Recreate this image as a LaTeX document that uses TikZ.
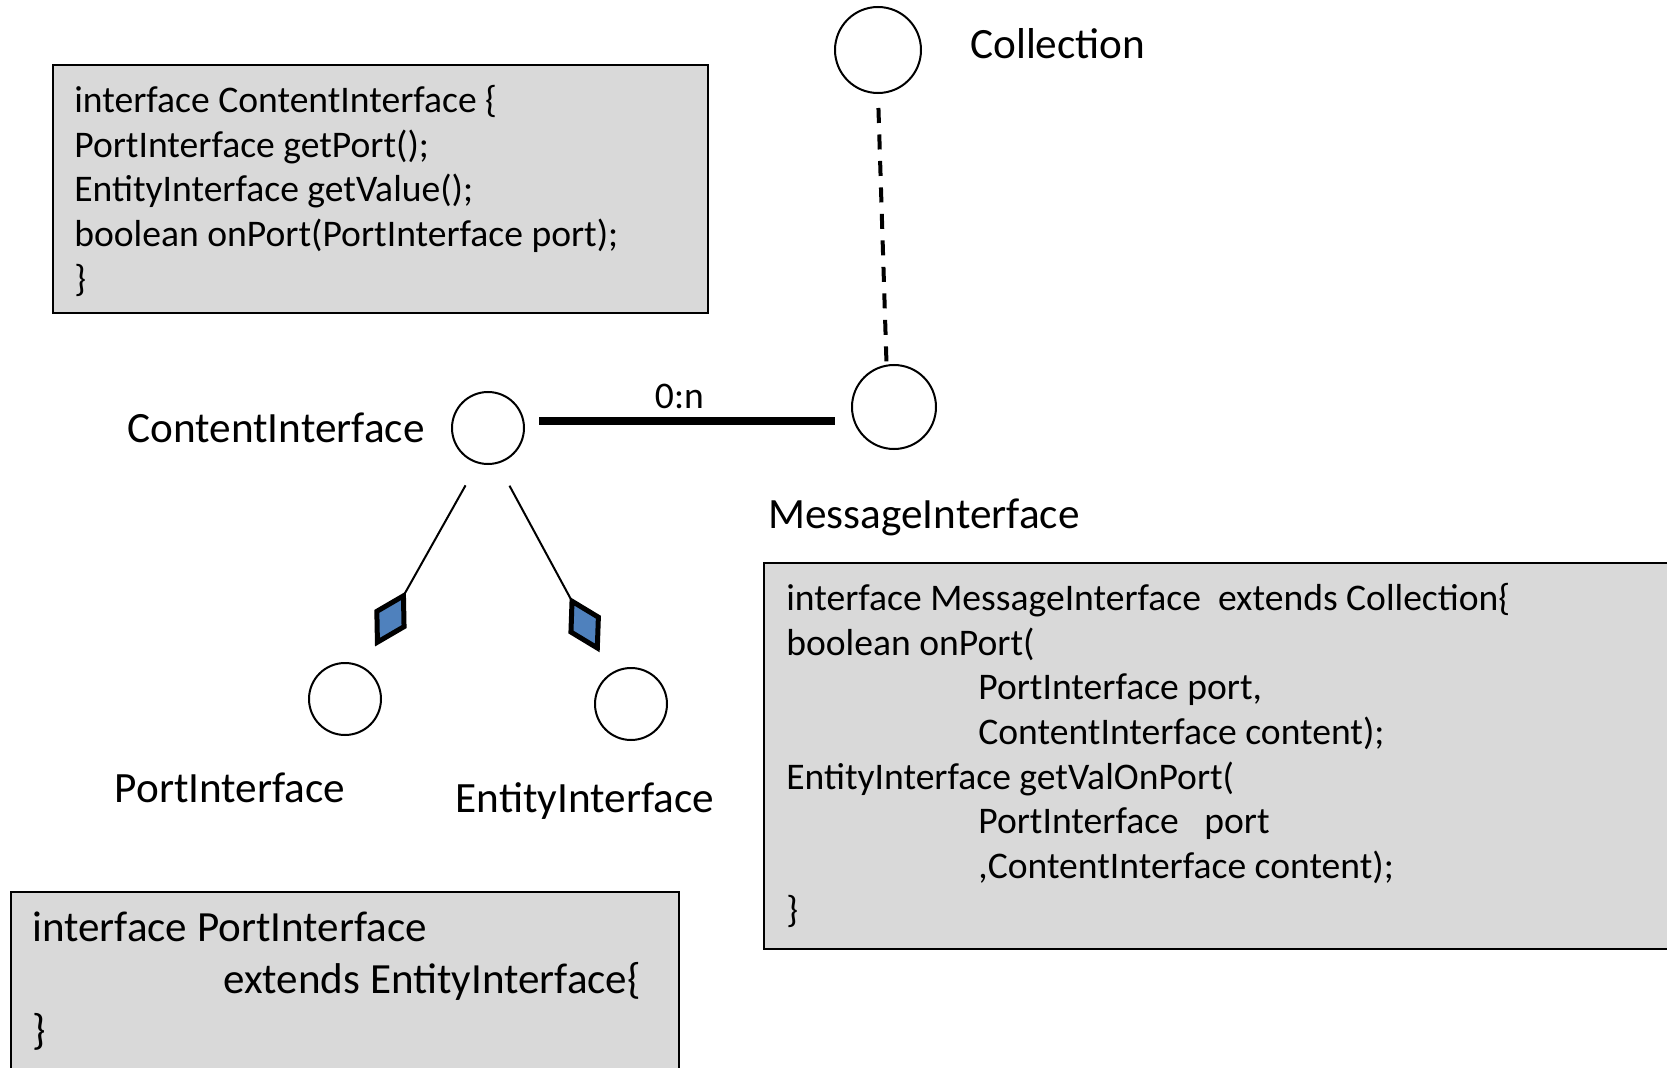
\documentclass[tikz,border=0pt]{standalone}
\usepackage{fontspec}
\setmainfont{Carlito}
\usetikzlibrary{arrows.meta}

\definecolor{boxgray}{RGB}{217,217,217}
\definecolor{diablue}{RGB}{79,129,189}
\newcommand{\codesize}{\fontsize{21.4}{25.4}\selectfont}
\newcommand{\namesize}{\fontsize{24.6}{29}\selectfont}

\tikzset{
  iface/.style={circle,draw,line width=0.4mm,inner sep=0pt,minimum size=14.4mm},
  codebox/.style={draw,line width=0.4mm,fill=boxgray},
  codetext/.style={anchor=north west,align=left,inner sep=0pt,font=\codesize},
  ifname/.style={font=\namesize,inner sep=0pt},
  agg/.style={line width=0.4mm,shorten <=5mm,shorten >=4.7mm,
    -{Diamond[length=12.6mm,width=7.4mm,line width=1mm,fill=diablue]}},
}

\begin{document}
\begin{tikzpicture}[x=0.2mm,y=-0.2mm]
    \useasboundingbox (0,0) rectangle (1667,1068);

    % code boxes
    \draw[codebox] (53,65) rectangle (708,313);
    \node[codetext] (contcode) at (74,85) {interface ContentInterface \{\\
        PortInterface getPort();\\
        EntityInterface getValue();\\
        boolean onPort(PortInterface port);\\
        \}};

    \draw[codebox] (764,563) rectangle (1690,949);
    \node[codetext] (msgcode) at (786,583) {interface MessageInterface~ extends Collection\{\\
        boolean onPort(\\
        \hspace*{38.4mm}PortInterface port,\\
        \hspace*{38.4mm}ContentInterface content);\\
        EntityInterface getValOnPort(\\
        \hspace*{38.4mm}PortInterface~~ port\\
        \hspace*{38.4mm},ContentInterface content);\\
        \}};

    \draw[codebox] (11,892) rectangle (679,1090);
    \node[codetext,font=\fontsize{24.5}{29.2}\selectfont] (portcode) at (32,912) {interface PortInterface\\
        \hspace*{38.2mm}extends EntityInterface\{\\
        \}};

    % interfaces
    \node[iface,minimum size=17.2mm] (coll) at (878,50) {};
    \node[iface,minimum size=16.8mm] (msg) at (894,407) {};
    \node[iface] (cont) at (488,428) {};
    \node[iface] (port) at (345,699) {};
    \node[iface] (ent) at (631,704) {};

    \node[ifname,anchor=west] (collname) at (970,44) {Collection};
    \node[ifname,anchor=east] (contname) at (425,428) {ContentInterface};
    \node[ifname] (msgname) at (924,517) {MessageInterface};
    \node[ifname] (portname) at (230,788) {PortInterface};
    \node[ifname] (entname) at (585,801) {EntityInterface};

    % links
    \draw[line width=0.8mm,dash pattern=on 3mm off 2.3mm,shorten <=2.8mm] (coll.south) -- (msg.100);

    \path ([shift={(14,-7)}]cont.east) coordinate (assocstart);
    \draw[line width=1.6mm,shorten >=3.2mm] (assocstart) -- (assocstart -| msg.west)
        node[pos=0.45,above=1.6mm,inner sep=0pt,font=\codesize] (card) {0:n};

    \draw[agg] (cont.-106) -- (port.60);
    \draw[agg] (cont.-75) -- (ent.123);

\end{tikzpicture}
\end{document}
